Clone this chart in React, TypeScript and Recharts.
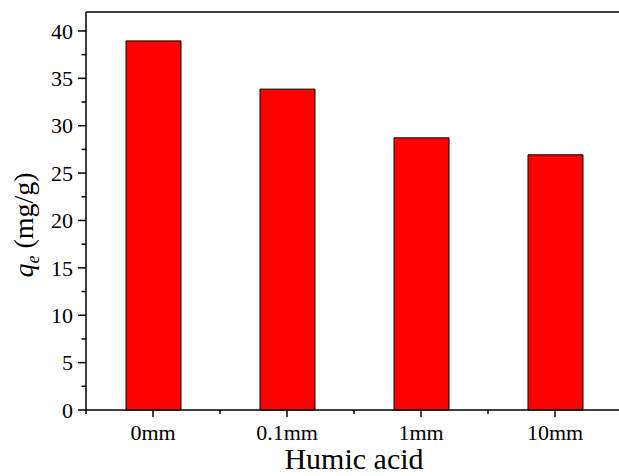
import React from "react";
import { BarChart, Bar, XAxis, YAxis, ReferenceLine } from "recharts";

const categories = ["0mm", "0.1mm", "1mm", "10mm"];
const qeValues = [38.95, 33.86, 28.72, 26.93];
const yTicks = [0, 2.5, 5, 7.5, 10, 12.5, 15, 17.5, 20, 22.5, 25, 27.5, 30, 32.5, 35, 37.5, 40];
const xTicks = [0.5, 1, 1.5, 2, 2.5, 3, 3.5, 4, 4.5];

const data = categories.map((name, i) => ({ pos: i + 1, name, qe: qeValues[i] }));

const font = "Liberation Serif";

const XTick = (props: any) => {
  const { x, y, payload } = props;
  const v = payload.value;
  const major = Number.isInteger(v);
  return (
    <g>
      <line x1={x} x2={x} y1={y} y2={y + (major ? 7 : 4)} stroke="#000" strokeWidth={1.5} />
      {major && (
        <text x={x} y={y + 30} textAnchor="middle" style={{ fontFamily: font, fontSize: 22 }} fill="#000">
          {categories[v - 1]}
        </text>
      )}
    </g>
  );
};

const YTick = (props: any) => {
  const { x, y, payload } = props;
  const v = payload.value;
  const major = v % 5 === 0;
  return (
    <g>
      <line x1={x} x2={x - (major ? 8 : 4.5)} y1={y} y2={y} stroke="#000" strokeWidth={1.5} />
      {major && (
        <text x={x - 13} y={y} dy="0.35em" textAnchor="end" style={{ fontFamily: font, fontSize: 22 }} fill="#000">
          {v}
        </text>
      )}
    </g>
  );
};

const YTitle = (props: any) => {
  const vb = props.viewBox;
  const cy = vb.y + vb.height / 2 + 14;
  return (
    <text
      transform={`translate(33, ${cy}) rotate(-90)`}
      textAnchor="middle"
      style={{ fontFamily: font, fontSize: 28 }}
      fill="#000"
    >
      <tspan fontStyle="italic">q</tspan>
      <tspan fontStyle="italic" fontSize={18} dy={6}>e</tspan>
      <tspan dy={-6}> (mg/g)</tspan>
    </text>
  );
};

const XTitle = (props: any) => {
  const vb = props.viewBox;
  return (
    <text x={vb.x + vb.width / 2} y={469} textAnchor="middle" style={{ fontFamily: font, fontSize: 30 }} fill="#000">
      Humic acid
    </text>
  );
};

export default function App() {
  return (
    <div style={{ position: "absolute", left: 0, top: 0, width: 619, height: 476, overflow: "hidden", background: "#fff", fontFamily: font }}>
      <BarChart width={630} height={476} data={data} margin={{ top: 12, right: 8, bottom: 0, left: 0 }}>
        <XAxis
          xAxisId={0}
          dataKey="pos"
          type="number"
          domain={[0.5, 4.5]}
          ticks={xTicks}
          interval={0}
          tickSize={0}
          tickMargin={0}
          tick={<XTick />}
          axisLine={{ stroke: "#000", strokeWidth: 1.5 }}
          tickLine={false}
          height={66}
          label={<XTitle />}
        />
        <YAxis
          yAxisId={0}
          type="number"
          domain={[0, 42]}
          ticks={yTicks}
          interval={0}
          width={86}
          tickSize={0}
          tickMargin={0}
          tick={<YTick />}
          tickLine={false}
          axisLine={{ stroke: "#000", strokeWidth: 1.5 }}
          label={<YTitle />}
        />
        <ReferenceLine y={42} stroke="#000" strokeWidth={1.5} ifOverflow="visible" />
        <ReferenceLine x={4.5} stroke="#000" strokeWidth={1.5} ifOverflow="visible" />
        <Bar dataKey="qe" fill="#ff0000" stroke="#000" strokeWidth={1} barSize={55} isAnimationActive={false} />
      </BarChart>
    </div>
  );
}
